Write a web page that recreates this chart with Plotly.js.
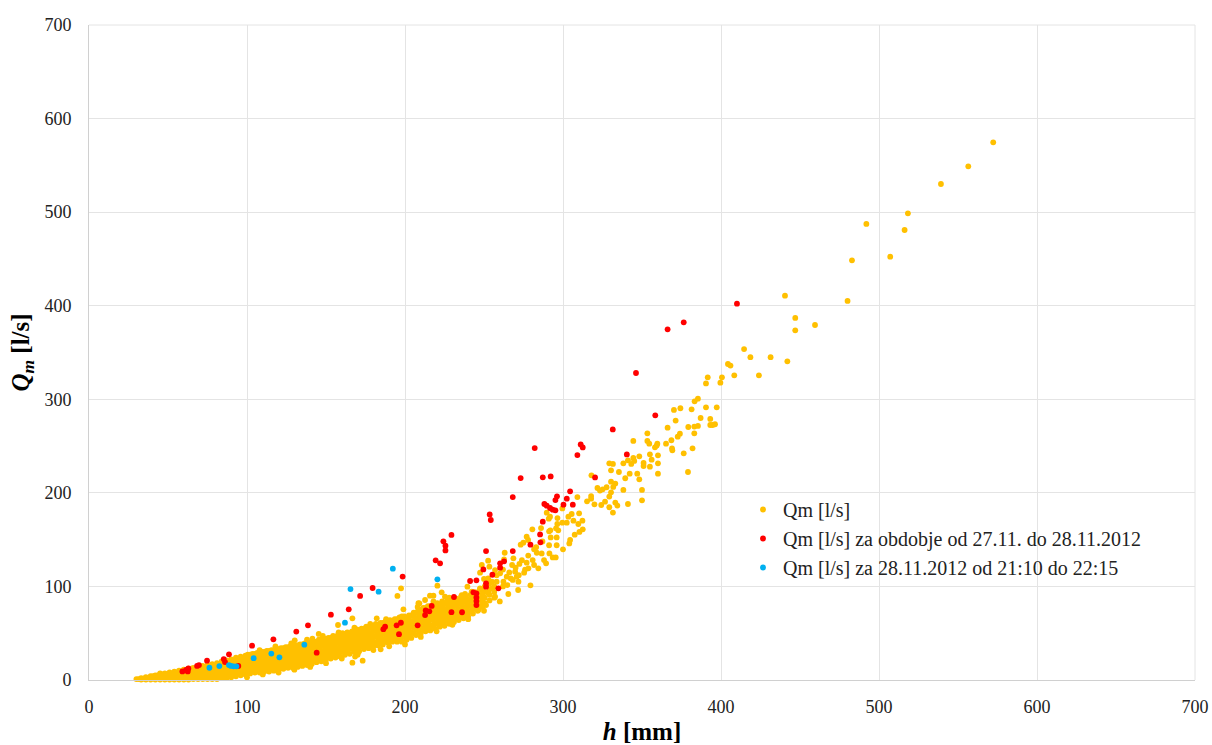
<!DOCTYPE html>
<html><head><meta charset="utf-8">
<script src="https://cdn.plot.ly/plotly-3.0.1.min.js"></script>
<style>html,body{margin:0;padding:0;background:#fff}#c{width:1212px;height:745px}</style>
</head><body><div id="c"></div>
<script>
// dense part of the first series, read column by column: h -> Qm values
const bandH=[30,33,36,39,42,45,48,51,54,57,60,63,66,69,72,75,78,81,84,87,90,93,96,99,102,105,108,111,114,117,120,123,126,129,132,135,138,141,144,147,150,153,156,159,162,165,168,171,174,177,180,183,186,189,192,195,198,201,204,207,210,213,216,219,222,225,228,231,234,237,240,243,246,249];
const bandQ=[[1],[0.5,2],[0.5,3],[0.5,4],[0.5,5],[0.5,4,7],[0.5,4,7],[0.5,4,8],[0.5,5,9],[0.5,5,10],[0.5,5,10,11],[0.5,5,9,12],[1,5,10,13],[1,5,10,14],[1,6,11,15],[1,6,11,16],[1,6,11,17],[1,6,12,18],[2,7,12,17,20],[2,7,12,17,21],[3,8,13,18,22],[4,9,14,19,24],[5,10,15,20,25],[6,11,16,21,26],[7,12,17,22,27],[8,13,18,23,28],[8,14,19,24,29],[9,14,19,25,30],[9,15,20,26,31],[10,15,21,27,32],[11,16,22,27,33],[12,17,23,28,34],[13,18,24,29,35],[13,19,24,30,36],[14,20,25,31,37],[15,21,27,32,38],[16,22,28,33,39],[17,23,28,34,40],[19,24,30,36,41],[20,26,31,37,43],[22,27,33,38,44],[23,28,34,40,45],[24,30,35,41,46],[25,31,37,43,48],[27,33,38,44,49],[28,34,40,45,50],[30,35,41,47,52],[31,37,43,48,53],[33,38,44,50,55],[34,40,46,51,56],[36,41,47,53,58],[37,43,49,55,59],[38,44,50,56,61],[40,46,52,57,62],[41,47,53,59,63],[41,47,53,59,65],[41,48,54,60,66],[43,49,55,61,67],[45,51,57,63,69],[48,54,60,66,72],[50,56,62,68,75],[52,58,64,70,77],[53,59,65,71,79],[55,61,67,73,80],[57,63,69,75,80],[58,64,70,76,82],[60,66,72,78,82],[62,68,74,80,84],[64,70,76,82,85],[66,72,78,84,87],[68,74,80,86],[71,77,83,89],[74,80,86,92],[78,84,90,96]];
const bandH2=[31.5,34.5,37.5,40.5,43.5,46.5,49.5,52.5,55.5,58.5,61.5,64.5,67.5,70.5,73.5,76.5,79.5,82.5,85.5,88.5,91.5,94.5,97.5,100.5,103.5,106.5,109.5,112.5,115.5,118.5,121.5,124.5,127.5,130.5,133.5,136.5,139.5,142.5,145.5,148.5,151.5,154.5,157.5,160.5,163.5,166.5,169.5,172.5,175.5,178.5,181.5,184.5,187.5,190.5,193.5,196.5,199.5,202.5,205.5,208.5,211.5,214.5,217.5,220.5,223.5,226.5,229.5,232.5,235.5,238.5,241.5,244.5,247.5,250.5,253.5,256.5];
const bandQ2=[[1],[1.5],[2],[2,4],[2,5],[2,6],[2,6],[3,7],[3,8],[3,8],[3,8,11],[3,8,12],[3,8,12],[3,8,13],[4,9,14],[4,9,14],[4,9,15],[4,9,15],[4,10,15,19],[5,10,15,20],[6,11,16,21],[7,12,17,22],[8,13,18,23],[9,14,19,24,27],[10,15,20,25,28],[10,16,21,26,29],[11,17,22,27,30],[12,17,22,28,31],[12,18,24,29,32],[13,19,25,30,33],[14,20,25,31,34],[15,21,26,32,35],[16,21,27,33,36],[17,22,28,34,37],[18,24,29,35,38],[19,25,30,36,39],[20,25,31,37,40],[21,27,33,38,41],[23,28,34,40,43],[24,30,36,41,44],[25,31,37,42,45],[26,32,38,43,47],[28,34,40,45,48],[30,36,41,47,50],[31,37,42,48,51],[33,38,44,49,52],[34,40,45,51,54],[36,41,47,52,55],[37,43,48,54,57],[38,44,50,56,58],[40,46,52,57,60],[41,47,53,58,61],[43,49,55,60,62],[44,50,56,61,64],[44,50,56,62,65],[45,51,57,63,67],[46,52,58,64,68],[47,53,59,65,69],[50,56,62,68,72],[53,59,65,71,75],[55,61,67,73,77],[56,62,68,74,79],[58,64,70,76,80],[60,66,72,78,82],[61,67,73,79,84],[63,69,75,81,84],[65,71,77,83,85],[67,73,79,85,87],[69,75,81,87,89],[71,77,83,89],[73,79,85,91],[76,82,88,94],[79,85,91,97],[82,88,94,100],[85,91,97,103],[88,94,100]];
// rough edges of the dense part
const edgeH=[108,118,128,138,148,158,168,178,188,198,208,218,228,238,100,110,120,130,140,150,160,170,180,190,200,210,220,230,240,250,260,255,258,250,262,266,270,274,278,283,287,292,297,272,276,262];
const edgeQ=[32,36,39,43,47,51,56,60,65,68,78,84,88,92,3,6,8,11,14,18,23,27,32,36,38,46,52,59,65,74,84,105,112,108,118,115,120,128,133,142,148,160,160,112,118,100];
// scattered part of the first series
const qmH=[572.3,556.5,539.2,518.3,492,516.2,482.9,507.1,480.1,440.5,447,447,459.5,414.6,418.6,431.4,442,404.4,406,408.4,424,391.6,400.6,390.5,399.6,385.4,383.3,370.2,374.3,381.4,390.5,397.3,387.1,393.2,371.3,393.2,394.7,396.2,385.4,383.1,379.3,366.2,383.1,374,372.6,353.4,344.5,353.4,354.6,359.7,359.3,358.2,365.2,368.6,369,369.2,382,376.4,348.3,355,360.1,344.5,341.1,345.1,338.2,343.2,329.3,331.6,351,351,356.1,360.1,355,330.4,335.4,342.2,347,360.1,379.1,339.4,348.3,330.4,333.1,331.8,327.6,325.1,323.4,338.2,350,330.4,329.3,326.6,350,341.1,333.1,334.4,329.3,331.6,324.2,309.1,318,315.2,321.8,317.8,317.8,319.9,299.6,289.7,291.8,291,296.5,303.4,305.5,310.2,312.3,306.6,302.4,299.6,296.4,309.7,295.6,286.1,280.6,291.2,312.5,310.4,307.4,292.2,296,277,277.9,274.9,273.2,304.5,304,291.2,296,300,281.7,283.4,286.5,291.4,293.5,295.4,263.1,268.6,262.7,288,289.3,280.8,277,281.7,284.4,278.1,275.4,272.4,267.8,248.6,252.6,253.4,257,247.5,252.6,260.2,264.4,269.7,270.7,266.9,262.3,271.8,268.2,264.8,279.4,271.6,265.4,258,255.3,252.8,257,247.5,239.5,242.2,235.9,238,249.6,246.4,251.3,233.8,223.2,225.3,215.8,218,212.7,209.1,220.5,197.5,195.2,199,208.5,166.7,173.2,168.4,170.5,184.6,157.6,166.7,145.4,130.2,141.4,182.1];
const qmQ=[574.6,549,530.1,498.7,487.4,480.9,448.5,452.4,405.1,410.7,386.9,373.7,379.4,353.7,345,345,340.6,337.7,336,325.6,325.6,323.5,323.5,317,317.7,300.7,297.8,288.6,290.4,289.3,291.4,291.4,280,279,277.2,272.5,272.5,273.3,271.5,270.8,270.4,269.7,263.6,263.3,260,263.6,255.5,255.5,252.6,252.6,250.5,248.7,252.6,256.2,247.6,245.5,247.6,242.3,239,241.2,240.1,237.3,234.8,234.1,231.6,230.9,231.6,230.9,232,228.7,235.5,231.6,228,224.1,222.3,220.5,220.5,220.5,222.3,215.6,214.5,212,209.9,206.3,206,203.8,202.4,203.1,203.1,200.6,196,190.6,192,188.1,189.6,186.4,184.6,178.9,187,195.5,218.7,191,205.2,196.6,193.8,187.7,183.4,178.8,174.5,172.4,173.1,174.5,177.4,178.1,170.3,170.3,168.1,168.1,166.7,166.7,162.1,162.4,161,158.9,161,158.2,155.3,152.4,152.4,153.2,149.6,146.8,144.6,149.6,146,144,144,139.6,139.6,136,135.3,135.3,131,131,136,130,128.9,128.2,124.7,128.2,125.4,122.9,119.3,119.3,114.7,124,122.9,122.9,127.5,121.1,117.5,114.7,108.6,114,110.4,115.8,110.4,108.6,105.1,105.1,106.9,101.5,101.2,96.2,91.9,105.1,98,92.6,89,98,99.7,94.4,90.8,87.3,82,74.8,80.1,85.5,93.7,89,90.1,90.1,85.5,81.9,100.8,98,89.8,75.5,82,18.5,20.7,25,29.6,32.8,58.8,65.9,49.2,42.4,44.2,65.9];
// second series: 27.11. - 28.11.2012
const periodH=[410.1,376.4,366.2,346.2,358.4,331.5,340.4,311.2,312.5,309.1,320.3,282.1,273.2,287.2,292.2,268.2,304.5,296.2,295.2,302.4,300.3,306.2,288.2,289.7,291.8,293.5,295.2,287.2,285.5,285.7,279.4,268.2,253.6,254.3,229.4,224.3,225.6,225.6,219.4,222.2,251.3,262.7,260.2,260.2,249.6,255.3,241.2,245.2,251.3,251.3,259.1,231,243.3,245.2,245.2,245.2,245.2,216.9,213.1,215.4,212.7,229.4,236.1,198.5,208,197.4,194.7,196.2,187.4,186.3,179.5,171.6,164.4,153.1,138.6,131.2,116.7,103.2,144.1,88.6,85.3,86.1,74.7,69.6,68.4,62.9,61.4,59.1,62.5,94.5];
const periodQ=[402.2,382.3,374.8,328.1,282.9,267.8,241.1,251.8,248.6,240.4,216.5,247.9,215.8,216.6,217.6,195.5,201.6,196.3,192.3,193.8,187.4,187.4,188.1,186.3,183.8,182,181.3,169.2,155.6,147.1,144.6,137.8,177,171,155,148.2,143.5,138.5,127.9,124.7,137.8,126.8,124.7,120,118.2,112.5,105.8,106.5,103.3,99.7,98,88.7,93.7,92.6,88.3,84.4,80.1,79.2,74.4,73.4,69.4,72.5,72.4,110.5,58.4,61.2,58.4,49,57,54.3,98.3,89.8,75.5,69.8,58.4,51.7,43.5,36.7,29.2,27.4,22.4,19.2,20.6,16,15,12.4,10.7,9.2,9.2,15];
// third series: 28.11.2012, 21:10 - 22:15
const eventH=[76.2,82.5,88.6,89.9,91.6,93.3,104.2,115.4,120.5,136.3,162,165.5,183.3,192.3,220.5];
const eventQ=[13.1,14.9,16,15,14.6,14.6,23.3,28.2,24.2,37.8,61.3,97.2,94.4,119,107.6];
const seriesNames=['Qm [l/s]','Qm [l/s] za obdobje od 27.11. do 28.11.2012','Qm [l/s] za 28.11.2012 od 21:10 do 22:15'];
const axisTicks=[0,100,200,300,400,500,600,700];

const allH=[],allQ=[];
bandH.forEach((h,i)=>bandQ[i].forEach(q=>{allH.push(h);allQ.push(q);}));
bandH2.forEach((h,i)=>bandQ2[i].forEach(q=>{allH.push(h);allQ.push(q);}));
edgeH.forEach((h,i)=>{allH.push(h);allQ.push(edgeQ[i]);});
qmH.forEach((h,i)=>{allH.push(h);allQ.push(qmQ[i]);});

const font='"Liberation Serif","Times New Roman",serif';
const mk=(x,y,name,color,g)=>({type:'scatter',mode:'markers',x,y,name,legendgroup:g,cliponaxis:false,
  marker:{color,size:5.8,line:{width:0}}});
const data=[mk(allH,allQ,seriesNames[0],'#FFC000','a'),mk(periodH,periodQ,seriesNames[1],'#FF0000','b'),mk(eventH,eventQ,seriesNames[2],'#00B0F0','c')];
const axis={range:[0,700],tickvals:axisTicks,ticktext:axisTicks.map(String),showgrid:true,gridcolor:'#e4e4e4',gridwidth:1,zeroline:false,
  showline:true,linecolor:'#d0d0d0',linewidth:1,mirror:false,ticks:'outside',tickcolor:'rgba(0,0,0,0)',
  tickfont:{family:font,size:18,color:'#222'},automargin:false,fixedrange:true};
const layout={width:1212,height:745,paper_bgcolor:'#fff',plot_bgcolor:'#fff',
  margin:{l:89,r:17,t:25,b:65},showlegend:true,
  font:{family:font,color:'#000'},
  xaxis:Object.assign({},axis,{ticklen:10,title:{text:'<b><i>h</i> [mm]</b>',font:{family:font,size:25,color:'#000'},standoff:12}}),
  yaxis:Object.assign({},axis,{ticklen:13,title:{text:'<b><i>Q<sub>m</sub></i> [l/s]</b>\u00a0\u00a0\u00a0\u00a0\u00a0\u00a0\u00a0\u00a0',font:{family:font,size:25,color:'#000'},standoff:7}}),
  legend:{x:(743-89)/1106,y:(680-490)/655,xanchor:'left',yanchor:'top',bgcolor:'rgba(0,0,0,0)',borderwidth:0,
    font:{family:font,size:20,color:'#222'},tracegroupgap:0,itemclick:false,itemdoubleclick:false},
  shapes:[{type:'line',xref:'paper',yref:'paper',x0:0,x1:1,y0:1,y1:1,line:{color:'#e4e4e4',width:1}},
          {type:'line',xref:'paper',yref:'paper',x0:1,x1:1,y0:0,y1:1,line:{color:'#e4e4e4',width:1}},
          {type:'rect',layer:'between',xref:'paper',yref:'paper',x0:(745-89)/1106,x1:(1145-89)/1106,y0:(680-585)/655,y1:(680-495)/655,fillcolor:'#fff',line:{width:0}}]};
Plotly.newPlot('c',data,layout,{displayModeBar:false,staticPlot:true});
</script></body></html>
